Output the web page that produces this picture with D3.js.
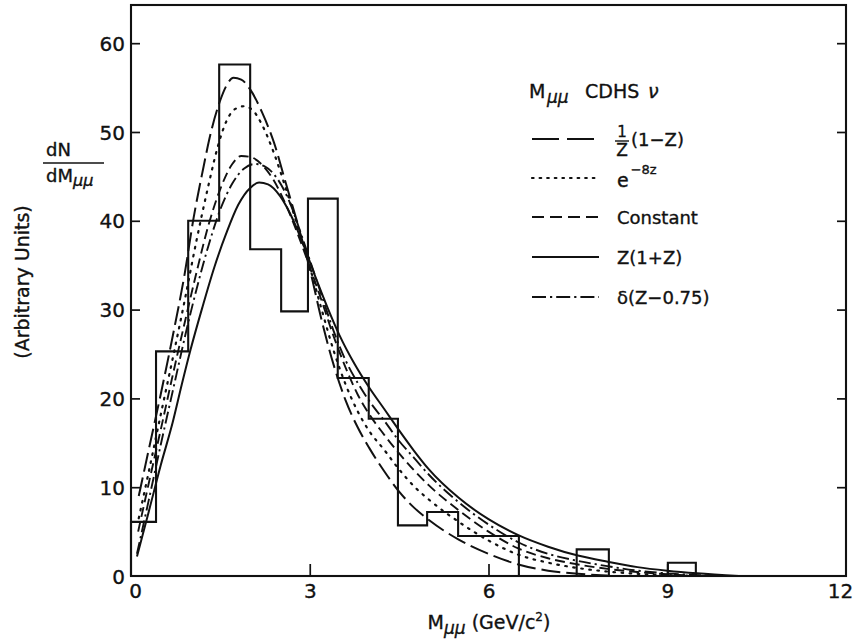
<!DOCTYPE html>
<html>
<head>
<meta charset="utf-8">
<script src="https://cdn.jsdelivr.net/npm/d3@7"></script>
<style>
  html, body { margin: 0; padding: 0; background: #fff; }
  svg { display: block; font-family: "DejaVu Sans", sans-serif; }
  svg text { stroke: #111; stroke-width: 0.35px; }
</style>
</head>
<body>
<svg id="chart" width="857" height="641"></svg>
<script>
// Dimuon invariant mass, CDHS neutrino data, with five charm fragmentation hypotheses.

// Histogram bins (GeV/c^2) and heights (arbitrary units)
const binLo     = [0.00, 0.42, 0.96, 1.48, 2.00, 2.52, 2.97, 3.47, 3.99, 4.48, 4.97, 5.49, 7.48, 9.01];
const binHi     = [0.42, 0.96, 1.48, 2.00, 2.52, 2.97, 3.47, 3.99, 4.48, 4.97, 5.49, 6.51, 8.02, 9.48];
const binCounts = [6.1, 25.3, 40.0, 57.6, 36.8, 29.8, 42.5, 22.3, 17.7, 5.7, 7.2, 4.5, 3.0, 1.5];

// Axis ticks
const xTicks = [0, 3, 6, 9, 12];
const yTicks = [0, 10, 20, 30, 40, 50, 60];

// Fitted curves: [mass, dN/dM]
const curveInvZ = [
  [0.13, 9.0], [0.3, 14.3], [0.5, 20.5], [0.7, 27.0], [0.9, 34.0], [1.05, 40.3], [1.2, 45.5],
  [1.35, 50.2], [1.5, 53.6], [1.6, 55.2], [1.72, 56.1], [1.85, 55.9], [2.0, 54.8], [2.2, 52.2],
  [2.4, 48.8], [2.6, 44.2], [2.8, 39.6], [3.0, 34.6], [3.2, 28.8], [3.4, 23.8], [3.6, 19.8],
  [3.8, 16.8], [4.0, 14.4], [4.25, 11.8], [4.5, 9.5], [4.75, 7.7], [5.0, 6.3], [5.5, 4.1],
  [6.0, 2.5], [6.5, 1.3], [7.0, 0.6], [7.5, 0.25], [8.0, 0.05]
];
const curveExp = [
  [0.13, 6.5], [0.3, 11.8], [0.5, 18.2], [0.7, 24.5], [0.9, 31.0], [1.1, 37.8], [1.3, 44.0],
  [1.45, 48.2], [1.6, 51.2], [1.75, 52.6], [1.9, 52.9], [2.05, 52.4], [2.2, 50.8], [2.4, 47.6],
  [2.6, 43.6], [2.8, 39.3], [3.0, 34.8], [3.2, 30.0], [3.4, 25.4], [3.6, 21.6], [3.8, 18.6],
  [4.0, 16.3], [4.25, 14.2], [4.5, 12.0], [4.75, 10.1], [5.0, 8.6], [5.5, 6.1], [6.0, 4.0],
  [6.5, 2.4], [7.0, 1.5], [7.5, 0.9], [8.0, 0.5], [8.5, 0.25], [9.0, 0.1], [9.5, 0.0]
];
const curveConst = [
  [0.12, 5.0], [0.3, 10.5], [0.5, 16.5], [0.7, 22.6], [0.9, 28.5], [1.1, 34.2], [1.3, 39.5],
  [1.5, 43.6], [1.7, 46.4], [1.85, 47.3], [2.0, 47.2], [2.2, 46.3], [2.4, 44.5], [2.6, 41.8],
  [2.8, 38.5], [3.0, 34.8], [3.2, 31.0], [3.4, 27.0], [3.6, 23.5], [3.8, 20.5], [4.0, 18.2],
  [4.25, 15.9], [4.5, 13.8], [4.75, 11.9], [5.0, 10.2], [5.5, 7.4], [6.0, 5.0], [6.5, 3.1],
  [7.0, 2.0], [7.5, 1.3], [8.0, 0.8], [8.5, 0.45], [9.0, 0.2], [9.5, 0.05], [10.0, 0.0]
];
const curveZ1Z = [
  [0.1, 2.2], [0.3, 7.3], [0.5, 12.5], [0.7, 17.3], [0.85, 21.5], [1.0, 25.5], [1.2, 30.3],
  [1.4, 34.8], [1.6, 38.6], [1.8, 41.8], [2.0, 43.7], [2.15, 44.3], [2.3, 44.1], [2.5, 42.8],
  [2.7, 40.4], [2.9, 37.2], [3.1, 33.6], [3.3, 30.2], [3.5, 27.1], [3.75, 23.9], [4.0, 21.2],
  [4.25, 18.8], [4.5, 16.4], [4.75, 14.1], [5.0, 12.0], [5.5, 8.8], [6.0, 6.4], [6.5, 4.6],
  [7.0, 3.3], [7.5, 2.3], [8.0, 1.6], [8.5, 1.0], [9.0, 0.6], [9.5, 0.3], [10.2, 0.0]
];
const curveDelta = [
  [0.1, 2.5], [0.3, 8.6], [0.5, 14.8], [0.74, 22.0], [0.9, 26.8], [1.1, 32.3], [1.3, 37.2],
  [1.5, 41.3], [1.7, 44.2], [1.9, 45.9], [2.08, 46.4], [2.25, 46.1], [2.45, 44.8], [2.65, 42.3],
  [2.85, 38.6], [3.0, 35.6], [3.2, 31.6], [3.4, 27.6], [3.6, 24.3], [3.8, 21.8], [4.0, 19.7],
  [4.25, 17.5], [4.5, 15.2], [4.75, 13.3], [5.0, 11.4], [5.5, 8.3], [6.0, 5.8], [6.5, 3.8],
  [7.0, 2.5], [7.5, 1.7], [8.0, 1.1], [8.5, 0.6], [9.0, 0.3], [9.5, 0.1], [10.0, 0.0]
];

const ink = "#111";
const svg = d3.select("#chart");

const x = d3.scaleLinear().domain([0, 12]).range([131, 846]);
const y = d3.scaleLinear().domain([0, 64.3]).range([576, 5]);

// Curve line styles (plot dash, legend dash)
const series = [
  { data: curveInvZ,  dash: "19,6",       key: "27,8",       width: 2.0, round: false },
  { data: curveExp,   dash: "1.6,6.5",    key: "1.6,6",      width: 2.2, round: true  },
  { data: curveConst, dash: "10,5",       key: "12,6",       width: 1.9, round: false },
  { data: curveZ1Z,   dash: null,         key: null,         width: 2.0, round: false },
  { data: curveDelta, dash: "12,4,2.2,4", key: "14,4,2.2,4", width: 1.9, round: false }
];

// Histogram as a step outline built from the bins
const steps = [[0, 0]];
let prevHi = 0;
binLo.forEach((lo, i) => {
  if (lo > prevHi + 1e-9) { steps.push([prevHi, 0]); steps.push([lo, 0]); }
  steps.push([lo, binCounts[i]]);
  steps.push([binHi[i], binCounts[i]]);
  prevHi = binHi[i];
});
steps.push([prevHi, 0]);

const stepLine = d3.line().x(d => x(d[0])).y(d => y(d[1]));
svg.append("path")
  .attr("d", stepLine(steps))
  .attr("fill", "none").attr("stroke", ink).attr("stroke-width", 2.1)
  .attr("stroke-linejoin", "miter");

// Fitted curves
const smooth = d3.line().x(d => x(d[0])).y(d => y(d[1])).curve(d3.curveMonotoneX);
series.forEach(s => {
  svg.append("path")
    .attr("d", smooth(s.data))
    .attr("fill", "none").attr("stroke", ink)
    .attr("stroke-width", s.width)
    .attr("stroke-linecap", s.round ? "round" : "butt")
    .attr("stroke-dasharray", s.dash);
});

// Frame
svg.append("rect")
  .attr("x", x(0)).attr("y", y(64.3))
  .attr("width", x(12) - x(0)).attr("height", y(0) - y(64.3))
  .attr("fill", "none").attr("stroke", ink).attr("stroke-width", 2.1);

// Axes
const axisStyle = g => {
  g.select(".domain").remove();
  g.selectAll(".tick line").attr("stroke", ink).attr("stroke-width", 1.7);
  g.selectAll(".tick text").attr("fill", ink).attr("font-size", 20)
    .attr("font-family", "DejaVu Sans, sans-serif");
};

svg.append("g").attr("transform", `translate(${x(0)},0)`)
  .call(d3.axisLeft(y).tickValues(yTicks).tickSize(-9).tickPadding(6).tickFormat(d3.format("d")))
  .call(axisStyle)
  .call(g => g.selectAll(".tick text").attr("dy", "0.36em"))
  .call(g => g.selectAll(".tick").filter(d => d === 0).select("line").remove());

svg.append("g").attr("transform", `translate(${x(12)},0)`)
  .call(d3.axisRight(y).tickValues(yTicks.filter(d => d > 0)).tickSize(-9).tickFormat(""))
  .call(axisStyle);

svg.append("g").attr("transform", `translate(0,${y(0)})`)
  .call(d3.axisBottom(x).tickValues(xTicks).tickSize(-12).tickPadding(3).tickFormat(d3.format("d")))
  .call(axisStyle)
  .call(g => g.selectAll(".tick text").attr("dy", "0.95em"))
  .call(g => g.selectAll(".tick").filter(d => d === 0 || d === 12).select("line").remove())
  .call(g => g.selectAll(".tick").filter(d => d === 12).select("text").attr("dx", "-6"))
  .call(g => g.selectAll(".tick").filter(d => d === 0).select("text").attr("dx", "4"));

// X axis title
const xt = svg.append("text").attr("x", 489).attr("y", 629)
  .attr("text-anchor", "middle").attr("font-size", 19).attr("fill", ink);
xt.append("tspan").text("M");
xt.append("tspan").attr("font-style", "italic").attr("font-size", 17).attr("dy", 5).text("μμ");
xt.append("tspan").attr("dy", -5).text(" (GeV/c");
xt.append("tspan").attr("font-size", 12).attr("dy", -8).text("2");
xt.append("tspan").attr("dy", 8).text(")");

// Y axis title
svg.append("text")
  .attr("transform", "translate(29,282) rotate(-90)")
  .attr("text-anchor", "middle").attr("font-size", 19).attr("fill", ink)
  .text("(Arbitrary Units)");

svg.append("text").attr("x", 46).attr("y", 156)
  .attr("font-size", 18).attr("fill", ink).text("dN");
svg.append("line").attr("x1", 43).attr("x2", 104).attr("y1", 163).attr("y2", 163)
  .attr("stroke", ink).attr("stroke-width", 1.5);
const dm = svg.append("text").attr("x", 46).attr("y", 182)
  .attr("font-size", 18).attr("fill", ink);
dm.append("tspan").text("dM");
dm.append("tspan").attr("font-style", "italic").attr("font-size", 16).attr("dy", 4).text("μμ");

// Legend
const lg = svg.append("g");
lg.append("text").attr("x", 529).attr("y", 98).attr("font-size", 19).attr("fill", ink).text("M");
lg.append("text").attr("x", 547).attr("y", 103).attr("font-size", 17).attr("font-style", "italic")
  .attr("fill", ink).text("μμ");
lg.append("text").attr("x", 585).attr("y", 98).attr("font-size", 19).attr("fill", ink).text("CDHS");
lg.append("text").attr("x", 648).attr("y", 98).attr("font-size", 19).attr("font-style", "italic")
  .attr("fill", ink).text("ν");

const rowY = [139, 178, 217, 257, 297];
series.forEach((s, i) => {
  lg.append("line")
    .attr("x1", 532).attr("x2", 599).attr("y1", rowY[i]).attr("y2", rowY[i])
    .attr("stroke", ink).attr("stroke-width", s.width)
    .attr("stroke-linecap", s.round ? "round" : "butt")
    .attr("stroke-dasharray", s.key);
});

// Row 1: fraction 1/Z followed by (1−Z)
lg.append("text").attr("x", 622).attr("y", 137).attr("text-anchor", "middle")
  .attr("font-size", 15).attr("fill", ink).text("1");
lg.append("line").attr("x1", 615).attr("x2", 629).attr("y1", 141).attr("y2", 141)
  .attr("stroke", ink).attr("stroke-width", 1.4);
lg.append("text").attr("x", 622).attr("y", 156).attr("text-anchor", "middle")
  .attr("font-size", 17).attr("fill", ink).text("Z");
lg.append("text").attr("x", 631).attr("y", 146).attr("font-size", 18).attr("fill", ink).text("(1−Z)");

// Row 2: exponential
const ex = lg.append("text").attr("x", 617).attr("y", 187).attr("font-size", 19).attr("fill", ink);
ex.append("tspan").text("e");
ex.append("tspan").attr("font-size", 13).attr("dy", -13).attr("dx", 2).text("−8z");

// Rows 3-5
lg.append("text").attr("x", 617).attr("y", 224).attr("font-size", 18).attr("fill", ink).text("Constant");
lg.append("text").attr("x", 617).attr("y", 264).attr("font-size", 18).attr("fill", ink).text("Z(1+Z)");
lg.append("text").attr("x", 617).attr("y", 304).attr("font-size", 18).attr("fill", ink).text("δ(Z−0.75)");
</script>
</body>
</html>
